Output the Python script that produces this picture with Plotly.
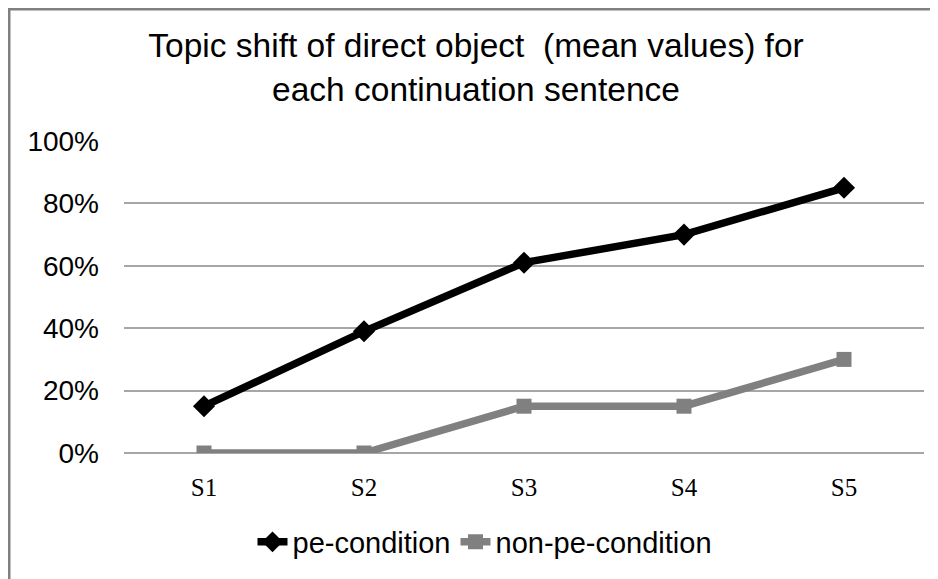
import plotly.graph_objects as go

categories = ["S1", "S2", "S3", "S4", "S5"]
pe_condition = [0.15, 0.39, 0.61, 0.70, 0.85]
non_pe_condition = [0.0, 0.0, 0.15, 0.15, 0.30]
y_ticks = [0, 0.2, 0.4, 0.6, 0.8, 1.0]
y_tick_labels = ["0%", "20%", "40%", "60%", "80%", "100%"]

# page body has an 8px margin, so figure coordinates = page coordinates - 8
OFF = 8
W, H = 938 - OFF, 579 - OFF
L = 124 - OFF
T = 141 - OFF
R = W - (924 - OFF)
B = H - (453 - OFF)
pw, ph = W - L - R, H - T - B

fig = go.Figure()
fig.add_trace(go.Scatter(
    x=categories, y=pe_condition, name="pe-condition", mode="lines+markers",
    line=dict(color="#000000", width=7.5),
    marker=dict(symbol="diamond", size=17, color="#000000"),
))
fig.add_trace(go.Scatter(
    x=categories, y=non_pe_condition, name="non-pe-condition", mode="lines+markers",
    line=dict(color="#808080", width=7.5),
    marker=dict(symbol="square", size=15, color="#808080"),
))

def px_x(p):
    return (p - OFF - L) / pw

def px_y(p):
    return (H - B - (p - OFF)) / ph

fig.update_layout(
    width=W, height=H,
    margin=dict(l=L, r=R, t=T, b=B),
    paper_bgcolor="white", plot_bgcolor="white",
    font=dict(family="Liberation Sans, Arial, sans-serif", color="#000000"),
    title=dict(
        text="Topic shift of direct object\u00a0 (mean values) for<br>each continuation sentence",
        x=(476 - OFF) / W, xanchor="center", xref="container",
        y=1 - (57 - OFF) / H, yanchor="middle", yref="container",
        font=dict(size=33.5, color="#000000"),
    ),
    xaxis=dict(
        type="category", range=[-0.5, 4.5],
        showgrid=False, zeroline=False, showline=False,
        ticks="", tickfont=dict(family="Liberation Serif, Times New Roman, serif", size=25, color="#000000"),
        ticklabelstandoff=17,
    ),
    yaxis=dict(
        range=[0, 1.0], tickvals=y_ticks, ticktext=y_tick_labels,
        showgrid=True, gridcolor="#a6a6a6", gridwidth=1.5,
        zeroline=True, zerolinecolor="#a6a6a6", zerolinewidth=1.5,
        showline=False, ticks="",
        tickfont=dict(size=28, color="#000000"),
        ticklabelstandoff=24,
    ),
    legend=dict(
        orientation="h", x=px_x(485), xanchor="center", y=px_y(542), yanchor="middle",
        font=dict(size=29, color="#000000"),
        bgcolor="rgba(0,0,0,0)",
    ),
    showlegend=True,
    shapes=[
        dict(type="line", xref="paper", yref="paper",
             x0=px_x(OFF), x1=px_x(950), y0=px_y(OFF + 1), y1=px_y(OFF + 1),
             line=dict(color="#808080", width=3)),
        dict(type="line", xref="paper", yref="paper",
             x0=px_x(OFF + 1), x1=px_x(OFF + 1), y0=px_y(OFF), y1=px_y(600),
             line=dict(color="#808080", width=3)),
    ],
)

fig.write_html("out.html")
